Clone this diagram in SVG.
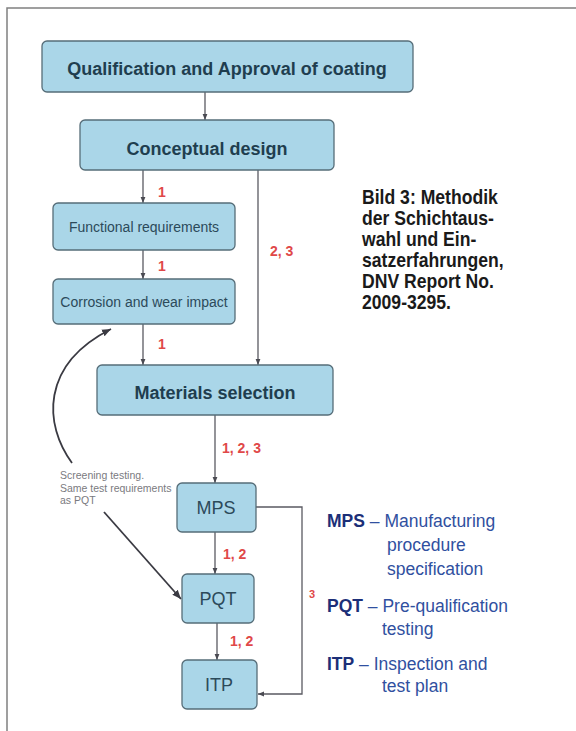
<svg xmlns="http://www.w3.org/2000/svg" width="576" height="731" viewBox="0 0 576 731">
<style>
.box{fill:#aad6e8;stroke:#566d78;stroke-width:1.3}
.bt{font-family:"Liberation Sans",Arial,sans-serif;font-weight:bold;font-size:18px;fill:#1f3e4f;text-anchor:middle}
.rt{font-family:"Liberation Sans",Arial,sans-serif;font-size:14px;fill:#2c4a5a;text-anchor:middle}
.st{font-family:"Liberation Sans",Arial,sans-serif;font-size:18px;fill:#2c4a5a;text-anchor:middle}
.lbl{font-family:"Liberation Sans",Arial,sans-serif;font-weight:bold;font-size:14px;fill:#e04848}
.con{fill:none;stroke:#5a5a62;stroke-width:1.3}
.cap{font-family:"Liberation Sans",Arial,sans-serif;font-weight:bold;font-size:20px;fill:#1a1a1a}
.lg{font-family:"Liberation Sans",Arial,sans-serif;font-size:17.5px;fill:#3050a0}
.lgb{font-weight:bold;fill:#1c2f78}
.scr{font-family:"Liberation Sans",Arial,sans-serif;font-size:10.5px;fill:#7a7a80}
</style>
<defs>
<marker id="ah" viewBox="0 0 10 10" refX="10" refY="5" markerWidth="6" markerHeight="6" markerUnits="userSpaceOnUse" orient="auto"><path d="M0,1 L10,5 L0,9 z" fill="#4a4a52"/></marker>
<marker id="ah2" viewBox="0 0 10 10" refX="10" refY="5" markerWidth="9" markerHeight="9" markerUnits="userSpaceOnUse" orient="auto"><path d="M0,1 L10,5 L0,9 z" fill="#3a3a42"/></marker>
</defs>
<rect width="576" height="731" fill="#ffffff"/>
<path d="M7,731 V8 H576" fill="none" stroke="#808080" stroke-width="1.5"/>

<g id="connectors">
<line class="con" x1="205" y1="92" x2="205" y2="120" marker-end="url(#ah)"/>
<line class="con" x1="143" y1="170" x2="143" y2="203" marker-end="url(#ah)"/>
<line class="con" x1="258" y1="170" x2="258" y2="365" marker-end="url(#ah)"/>
<line class="con" x1="143" y1="250" x2="143" y2="279" marker-end="url(#ah)"/>
<line class="con" x1="143" y1="324" x2="143" y2="365" marker-end="url(#ah)"/>
<line class="con" x1="215" y1="415" x2="215" y2="483" marker-end="url(#ah)"/>
<line class="con" x1="215" y1="532" x2="215" y2="574" marker-end="url(#ah)"/>
<line class="con" x1="217" y1="623" x2="217" y2="660" marker-end="url(#ah)"/>
<path class="con" d="M256,507 H302 V694 H258" marker-end="url(#ah)"/>
<path d="M72,463 C44,425 40,365 111,329" fill="none" stroke="#3a3a42" stroke-width="1.8" marker-end="url(#ah2)"/>
<line x1="104" y1="512" x2="181" y2="599" stroke="#3a3a42" stroke-width="1.8" marker-end="url(#ah2)"/>
<text class="lbl" x="158" y="197">1</text>
<text class="lbl" x="158" y="271">1</text>
<text class="lbl" x="158" y="349">1</text>
<text class="lbl" x="270" y="256">2, 3</text>
<text class="lbl" x="222" y="453">1, 2, 3</text>
<text class="lbl" x="223" y="559">1, 2</text>
<text class="lbl" x="230" y="646">1, 2</text>
<text class="lbl" x="309" y="598" style="font-size:11px">3</text>
<text class="scr" x="60" y="479">Screening testing.</text>
<text class="scr" x="60" y="492">Same test requirements</text>
<text class="scr" x="60" y="504">as PQT</text>
</g>

<g id="n-qualification">
<rect class="box" x="42" y="41" width="371" height="51" rx="5"/>
<text class="bt" x="227" y="75">Qualification and Approval of coating</text>
</g>
<g id="n-conceptual">
<rect class="box" x="80" y="120" width="254" height="50" rx="5"/>
<text class="bt" x="207" y="155">Conceptual design</text>
</g>
<g id="n-functional">
<rect class="box" x="53" y="203" width="182" height="47" rx="5"/>
<text class="rt" x="144" y="232">Functional requirements</text>
</g>
<g id="n-corrosion">
<rect class="box" x="53" y="279" width="182" height="45" rx="5"/>
<text class="rt" x="144" y="307">Corrosion and wear impact</text>
</g>
<g id="n-materials">
<rect class="box" x="97" y="365" width="236" height="50" rx="5"/>
<text class="bt" x="215" y="399">Materials selection</text>
</g>
<g id="n-mps">
<rect class="box" x="177" y="483" width="79" height="49" rx="5"/>
<text class="st" x="216" y="514">MPS</text>
</g>
<g id="n-pqt">
<rect class="box" x="182" y="574" width="72" height="49" rx="5"/>
<text class="st" x="218" y="605">PQT</text>
</g>
<g id="n-itp">
<rect class="box" x="182" y="660" width="75" height="49" rx="5"/>
<text class="st" x="219" y="691">ITP</text>
</g>

<g id="caption" transform="translate(362,0) scale(0.88,1)">
<text class="cap" x="0" y="204">Bild 3: Methodik</text>
<text class="cap" x="0" y="225">der Schichtaus-</text>
<text class="cap" x="0" y="246">wahl und Ein-</text>
<text class="cap" x="0" y="267">satzerfahrungen,</text>
<text class="cap" x="0" y="288">DNV Report No.</text>
<text class="cap" x="0" y="309">2009-3295.</text>
</g>

<g id="legend">
<text class="lg" x="327" y="527"><tspan class="lgb">MPS</tspan> – Manufacturing</text>
<text class="lg" x="387" y="551">procedure</text>
<text class="lg" x="387" y="575">specification</text>
<text class="lg" x="327" y="612"><tspan class="lgb">PQT</tspan> – Pre-qualification</text>
<text class="lg" x="382" y="635">testing</text>
<text class="lg" x="327" y="670"><tspan class="lgb">ITP</tspan>  –  Inspection and</text>
<text class="lg" x="382" y="692">test plan</text>
</g>
</svg>
